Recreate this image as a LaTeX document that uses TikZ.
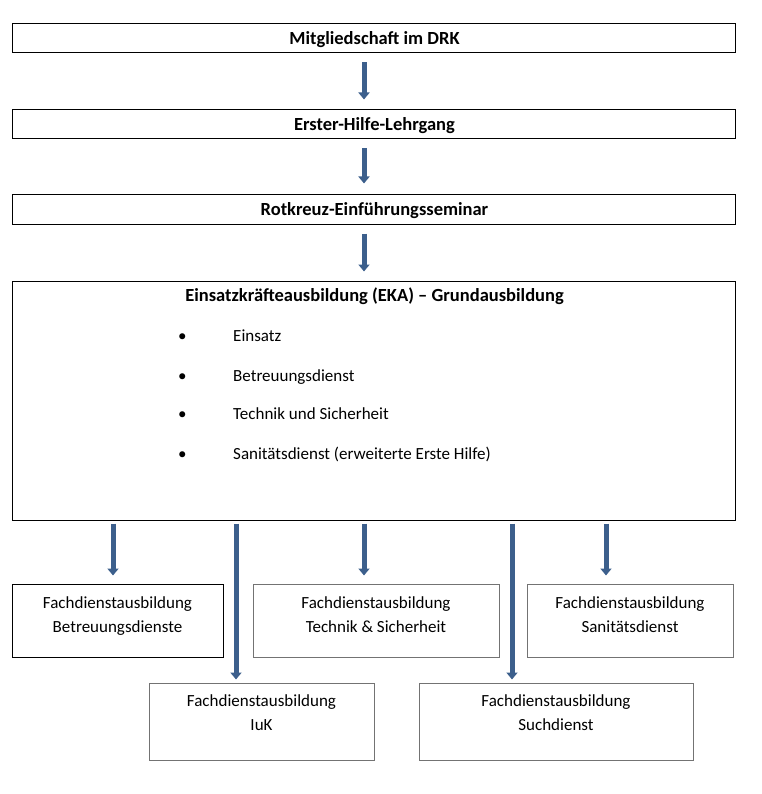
\documentclass[tikz,border=0pt]{standalone}
\usepackage{fontspec}
\setmainfont{Carlito}
\usetikzlibrary{arrows.meta}
\definecolor{arrblue}{RGB}{60,95,140}
\tikzset{
  box/.style={draw=black, line width=1pt, inner sep=0pt, fill=white},
  gbox/.style={draw=black!55, line width=1pt, inner sep=0pt},
  ttl/.style={font=\fontsize{18.5}{22}\selectfont\bfseries, inner sep=0pt},
  txt/.style={font=\fontsize{17}{24}\selectfont, inner sep=0pt, align=center},
  itm/.style={font=\fontsize{17}{20}\selectfont, inner sep=0pt, anchor=base west},
  arr/.style={draw=arrblue, line width=5pt, -{Triangle[width=11pt,length=7pt]}}
}
\begin{document}
\begin{tikzpicture}[x=1pt,y=-1pt]
\useasboundingbox (0,0) rectangle (761,794);
% top chain
\node[box, minimum width=723, minimum height=29] (b1) at (373.5,38.5) {};
\node[ttl, anchor=base] (t1) at (374.5,44.5) {Mitgliedschaft im DRK};
\node[box, minimum width=723, minimum height=29] (b2) at (373.5,124.5) {};
\node[ttl, anchor=base] (t2) at (374.5,130.5) {Erster-Hilfe-Lehrgang};
\node[box, minimum width=723, minimum height=30] (b3) at (373.5,210) {};
\node[ttl, anchor=base] (t3) at (374.5,216) {Rotkreuz-Einführungsseminar};
\node[box, minimum width=723, minimum height=239] (b4) at (373.5,400.5) {};
\node[ttl, anchor=base] (t4) at (374.5,301) {Einsatzkräfteausbildung (EKA) – Grundausbildung};
\foreach \y/\t [count=\i] in {341/Einsatz,381/Betreuungsdienst,419/Technik und Sicherheit,459/Sanitätsdienst (erweiterte Erste Hilfe)}{
  \node[itm] (bul\i) at (178,\y) {•};
  \node[itm] (it\i) at (233,\y) {\t};
}
% bottom boxes
\node[box, minimum width=211, minimum height=73] (b6) at (117.5,620.5) {};
\node[txt, anchor=north] (t6) at (117.5,596) {Fachdienstausbildung\\Betreuungsdienste};
\node[gbox, minimum width=246, minimum height=73] (b7) at (376,620.5) {};
\node[txt, anchor=north] (t7) at (376,596) {Fachdienstausbildung\\Technik \& Sicherheit};
\node[gbox, minimum width=206, minimum height=73] (b8) at (630,620.5) {};
\node[txt, anchor=north] (t8) at (630,596) {Fachdienstausbildung\\Sanitätsdienst};
\node[gbox, minimum width=225, minimum height=77] (b9) at (261.5,721.5) {};
\node[txt, anchor=north] (t9) at (261.5,694) {Fachdienstausbildung\\IuK};
\node[gbox, minimum width=274, minimum height=77] (b10) at (556,721.5) {};
\node[txt, anchor=north] (t10) at (556,694) {Fachdienstausbildung\\Suchdienst};
% arrows
\draw[arr, shorten <=9pt, shorten >=10pt] (b1.south -| 364,0) -- (b2.north -| 364,0);
\draw[arr, shorten <=9pt, shorten >=11pt] (b2.south -| 364,0) -- (b3.north -| 364,0);
\draw[arr, shorten <=8pt, shorten >=9pt] (b3.south -| 364,0) -- (b4.north -| 364,0);
\draw[arr, shorten <=3pt, shorten >=8pt] (b4.south -| 113,0) -- (b6.north -| 113,0);
\draw[arr, shorten <=3pt, shorten >=8pt] (b4.south -| 364,0) -- (b7.north -| 364,0);
\draw[arr, shorten <=3pt, shorten >=8pt] (b4.south -| 606,0) -- (b8.north -| 606,0);
\draw[arr, shorten <=3pt, shorten >=3pt] (b4.south -| 236,0) -- (b9.north -| 236,0);
\draw[arr, shorten <=3pt, shorten >=3pt] (b4.south -| 512,0) -- (b10.north -| 512,0);
\end{tikzpicture}
\end{document}
